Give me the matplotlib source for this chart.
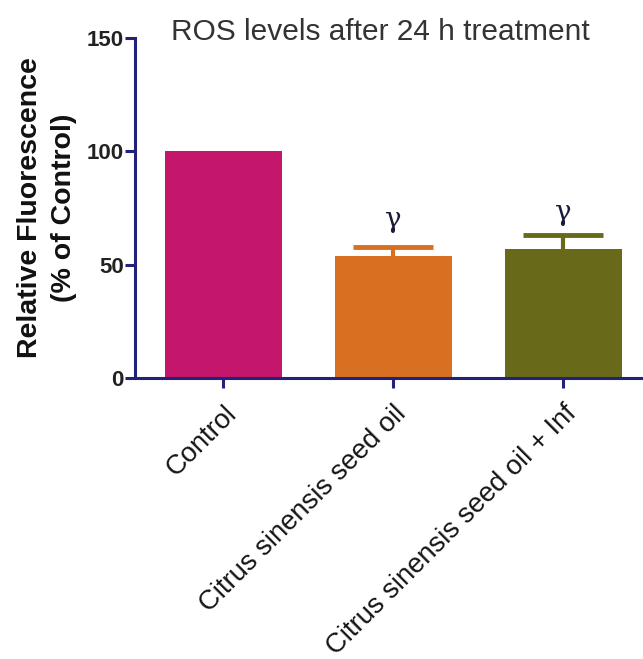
import numpy as np
import matplotlib
matplotlib.use("Agg")
from matplotlib import pyplot as plt

plt.rcParams["font.family"] = ["Liberation Sans", "DejaVu Sans"]

# data
groups = ["Control", "Citrus sinensis seed oil", "Citrus sinensis seed oil + Inf"]
means = [100.0, 53.7, 57.1]
sem = [0.0, 4.1, 6.1]
marks = ["", "γ", "γ"]
mark_heights = [0, 70, 73]
bar_colors = ["#C4166B", "#D87021", "#69691A"]

axis_color = "#22227A"

fig = plt.figure(figsize=(6.43, 6.59), dpi=100)
ax = fig.add_axes([0.21, 0.4264, 0.79, 0.5160])

x = np.arange(len(groups))
ax.bar(x, means, width=0.69, color=bar_colors, zorder=2)
for xi, m, e, c in zip(x, means, sem, bar_colors):
    if e > 0:
        _, caps, _ = ax.errorbar(xi, m, yerr=[[0], [e]], fmt="none", ecolor=c,
                                 elinewidth=3, capsize=29, capthick=3.5, zorder=1)
        caps[0].set_visible(False)

for xi, txt, h in zip(x, marks, mark_heights):
    if txt:
        ax.text(xi, h, txt, ha="center", va="center", fontsize=20,
                family="DejaVu Serif", color="#1a1a3a")

ax.set_xlim(-0.52, 2.47)
ax.set_ylim(0, 150)
ax.set_yticks([0, 50, 100, 150])
ax.set_xticks(x)
ax.set_xticklabels(groups, rotation=45, ha="right", rotation_mode="anchor",
                   fontsize=19.7, color="#151515")
for lab in ax.get_yticklabels():
    lab.set_fontweight("bold")
    lab.set_fontsize(16)
    lab.set_color("#222222")

for s in ["top", "right"]:
    ax.spines[s].set_visible(False)
for s in ["left", "bottom"]:
    ax.spines[s].set_color(axis_color)
    ax.spines[s].set_linewidth(2.2)
ax.tick_params(axis="both", color=axis_color, width=2.2, length=7, pad=1)
ax.tick_params(axis="x", pad=9)

ax.set_ylabel("Relative Fluorescence\n(% of Control)", fontsize=20.5,
              fontweight="bold", color="#111111", labelpad=7, linespacing=1.4)
fig.text(0.592, 1 - 40 / 659, "ROS levels after 24 h treatment", ha="center",
         va="baseline", fontsize=21.5, color="#333333")

fig.savefig("out.png", dpi=100)
